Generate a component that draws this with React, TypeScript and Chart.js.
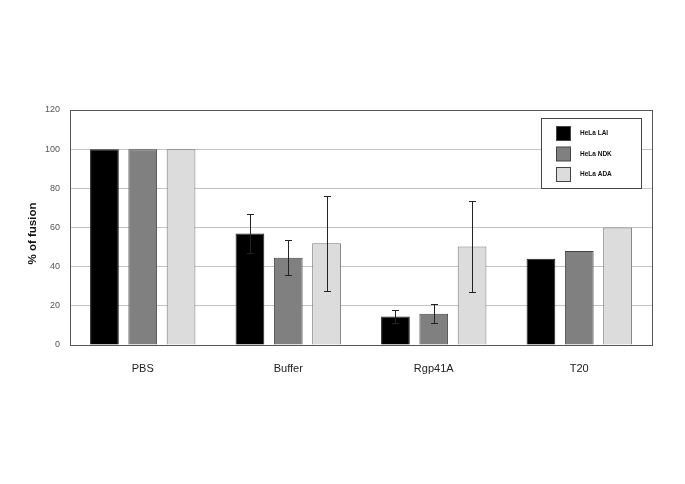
import React, { useEffect, useRef } from "react";
import { Chart, registerables } from "chart.js";

Chart.register(...registerables);

const categories = ["PBS", "Buffer", "Rgp41A", "T20"];
const seriesNames = ["HeLa LAI", "HeLa NDK", "HeLa ADA"];
const laiValues = [100, 57, 14.5, 44];
const ndkValues = [100, 44.5, 16, 48];
const adaValues = [100, 52, 50.3, 60];
const laiErrors = [0, 9.8, 3.4, 0];
const ndkErrors = [0, 8.9, 5, 0];
const adaErrors = [0, 24.2, 23.2, 0];
const yTicks = [0, 20, 40, 60, 80, 100, 120];
const yTitle = "% of fusion";

const fills = ["#000000", "#808080", "#dcdcdc"];
const borders = ["#222222", "#444444", "#777777"];
const FONT = "Arial, 'Liberation Sans', sans-serif";

const errorBarPlugin = {
  id: "errorBars",
  afterDatasetsDraw(chart: any) {
    const ctx = chart.ctx;
    const y = chart.scales.y;
    ctx.save();
    ctx.strokeStyle = "#222222";
    ctx.lineWidth = 1;
    chart.data.datasets.forEach((ds: any, di: number) => {
      const meta = chart.getDatasetMeta(di);
      const errs = ds.errors as number[];
      meta.data.forEach((bar: any, i: number) => {
        const e = errs[i];
        if (!e) return;
        const v = ds.data[i];
        const x = Math.round(bar.x) + 0.5;
        const yt = Math.round(y.getPixelForValue(v + e)) + 0.5;
        const yb = Math.round(y.getPixelForValue(v - e)) + 0.5;
        ctx.beginPath();
        ctx.moveTo(x, yt);
        ctx.lineTo(x, yb);
        ctx.moveTo(x - 3.5, yt);
        ctx.lineTo(x + 3.5, yt);
        ctx.moveTo(x - 3.5, yb);
        ctx.lineTo(x + 3.5, yb);
        ctx.stroke();
      });
    });
    ctx.restore();
  },
};

const frameLegendPlugin = {
  id: "frameLegend",
  afterDraw(chart: any) {
    const ctx = chart.ctx;
    const a = chart.chartArea;
    ctx.save();
    ctx.strokeStyle = "#555555";
    ctx.lineWidth = 1;
    ctx.strokeRect(Math.round(a.left) + 0.5, Math.round(a.top) + 0.5, Math.round(a.right - a.left), Math.round(a.bottom - a.top));
    // y title
    ctx.save();
    ctx.translate(32.5, 233.5);
    ctx.rotate(-Math.PI / 2);
    ctx.font = `bold 11.5px ${FONT}`;
    ctx.fillStyle = "#111111";
    ctx.textAlign = "center";
    ctx.textBaseline = "middle";
    ctx.fillText(yTitle, 0, 0);
    ctx.restore();
    // legend
    const lx = 541.5, ly = 118.5, lw = 100, lh = 70;
    ctx.fillStyle = "#ffffff";
    ctx.fillRect(lx, ly, lw, lh);
    ctx.strokeStyle = "#444444";
    ctx.strokeRect(lx, ly, lw, lh);
    ctx.font = `bold 6.5px ${FONT}`;
    ctx.textBaseline = "middle";
    chart.data.datasets.forEach((ds: any, i: number) => {
      const sy = 126.5 + i * 20.5;
      ctx.fillStyle = ds.backgroundColor;
      ctx.fillRect(556.5, sy, 14, 14);
      ctx.strokeStyle = "#444444";
      ctx.strokeRect(556.5, sy, 14, 14);
      ctx.fillStyle = "#111111";
      ctx.fillText(ds.label, 580, sy + 7);
    });
    ctx.restore();
  },
};

export default function App() {
  const ref = useRef<HTMLCanvasElement>(null);
  useEffect(() => {
    if (!ref.current) return;
    const values = [laiValues, ndkValues, adaValues];
    const errors = [laiErrors, ndkErrors, adaErrors];
    const chart = new Chart(ref.current, {
      type: "bar",
      data: {
        labels: categories,
        datasets: seriesNames.map((name, i) => ({
          label: name,
          data: values[i],
          errors: errors[i],
          backgroundColor: fills[i],
          borderColor: borders[i],
          borderWidth: 1,
          barPercentage: 0.75,
          categoryPercentage: 0.79,
        })) as any,
      },
      options: {
        responsive: false,
        animation: false,
        devicePixelRatio: 1,
        layout: { padding: { top: 110, right: 33, bottom: 109, left: 0 } },
        plugins: { legend: { display: false }, tooltip: { enabled: false } },
        scales: {
          x: {
            grid: { display: false, drawTicks: false },
            border: { display: false },
            ticks: {
              color: "#222222",
              font: { family: FONT, size: 11 },
              padding: 17,
            },
            afterFit: (s: any) => {
              s.height = 30;
            },
          },
          y: {
            min: 0,
            max: 120,
            afterBuildTicks: (s: any) => {
              s.ticks = yTicks.map((v) => ({ value: v }));
            },
            grid: { color: "#c4c4c4", lineWidth: 1, drawTicks: false },
            border: { display: false },
            ticks: {
              color: "#555555",
              font: { family: FONT, size: 9 },
              padding: 10,
            },
            afterFit: (s: any) => {
              s.width = 70;
            },
          },
        },
      },
      plugins: [errorBarPlugin, frameLegendPlugin],
    });
    return () => chart.destroy();
  }, []);
  return (
    <div style={{ position: "absolute", left: 0, top: 0, background: "#fff" }}>
      <canvas ref={ref} width={685} height={484} style={{ display: "block" }} />
    </div>
  );
}
